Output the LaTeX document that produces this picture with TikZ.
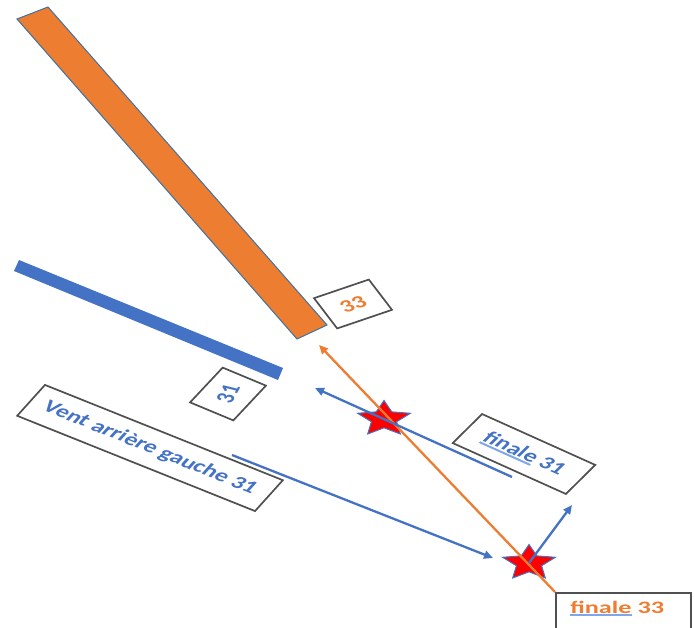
\documentclass[tikz,border=0pt]{standalone}
\usepackage{fontspec}
\setmainfont{Carlito}
\usetikzlibrary{shapes.geometric,arrows.meta}
\definecolor{offblue}{HTML}{4472C4}
\definecolor{offorange}{HTML}{ED7D31}
\definecolor{boxgray}{HTML}{505050}
\definecolor{ulblue}{HTML}{7EA6E8}
\definecolor{rwyedge}{HTML}{41719C}
\newcommand\spellul[1]{\setbox0\hbox{#1}\rlap{\color{ulblue}\rule[-3pt]{\wd0}{1.8pt}}\box0{}}
\begin{document}
\begin{tikzpicture}[x=1pt,y=-1pt,
  lblfont/.style={font=\bfseries\fontsize{17.5}{20}\selectfont},
  lbl/.style={draw=boxgray, line width=1.7pt, xscale=1.5, inner sep=0pt, lblfont},
  conn/.style={line width=2.3pt, -{Triangle[length=9pt,width=8pt]}},
  starmark/.style={star, star points=5, star point ratio=2.1, fill=red, draw=offblue, line width=1pt, xscale=1.5, minimum size=37pt, inner sep=0pt},
]
\useasboundingbox (0,0) rectangle (695,628);
\clip (0,0) rectangle (695,628);
% runways
\filldraw[fill=offorange, draw=rwyedge, line width=1pt] (17,19) -- (48,7) -- (327,325) -- (297,339) -- cycle;
\fill[offblue] (19,260) -- (283,368) -- (278,380) -- (14,271) -- cycle;
% labels
\node[lbl, rotate=27, minimum width=41pt, minimum height=34pt, text=offorange] (b33) at (353,304) {33};
\node[draw=boxgray, line width=1.7pt, xscale=1.5, rotate=58, minimum width=41pt, minimum height=34pt, inner sep=0pt] (b31) at (228,394) {};
\node[text=offblue, xscale=1.5, rotate=70, lblfont, inner sep=0pt] (t31) at (b31.center) {31};
\node[lbl, rotate=-31, minimum width=185pt, minimum height=36pt, text=offblue] (vent) at (150,448) {Vent arrière gauche 31};
\node[lbl, rotate=-34, minimum width=91pt, minimum height=35pt, text=offblue] (f31) at (524,454) {\spellul{finale} 31};
\node[draw=boxgray, line width=1.7pt, minimum width=135pt, minimum height=50pt, anchor=north west, inner sep=0pt] (f33box) at (555,592) {};
\node[text=offorange, xscale=1.5, anchor=base west, lblfont, inner sep=0pt] (t33) at (570,613) {\spellul{finale} 33};
% stars
\node[starmark] (s1) at (384,419) {};
\node[starmark] (s2) at (529,563) {};
% free ends
\coordinate (o33tip) at (319,345);
\coordinate (f31tip) at (315,388);
\coordinate (f31end) at (512,477);
\coordinate (ventstart) at (232,455);
\coordinate (venttip) at (493,558);
\coordinate (uptip) at (572,505);
% connectors
\draw[conn, offorange] (f33box.north west) -- (o33tip);
\draw[conn, offblue] (f31end) -- (f31tip);
\draw[conn, offblue] (ventstart) -- (venttip);
\draw[conn, offblue] (s2.center) -- (uptip);
\end{tikzpicture}
\end{document}
